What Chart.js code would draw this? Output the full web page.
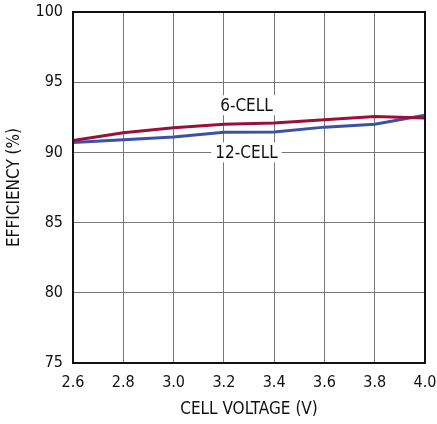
<!DOCTYPE html>
<html>
<head>
<meta charset="utf-8">
<script src="https://cdn.jsdelivr.net/npm/chart.js@4/dist/chart.umd.min.js"></script>
<style>
  html, body { margin: 0; padding: 0; background: #fff; }
  #wrap { width: 437px; height: 424px; position: relative; }
</style>
</head>
<body>
<div id="wrap"><canvas id="chart"></canvas></div>
<script>
const voltages = [2.6, 2.8, 3.0, 3.2, 3.4, 3.6, 3.8, 4.0];
const sixCell = [90.85, 91.4, 91.75, 92.0, 92.1, 92.33, 92.55, 92.45];
const twelveCell = [90.7, 90.9, 91.1, 91.43, 91.45, 91.8, 92.0, 92.65];
const seriesNames = ['6-CELL', '12-CELL'];
const yTicks = [75, 80, 85, 90, 95, 100];

const FONT = '"Liberation Sans Narrow", "DejaVu Sans Condensed", "Liberation Sans", sans-serif';

// curve labels, knocked out of the grid with a white box
const curveLabels = {
  id: 'curveLabels',
  afterDatasetsDraw(chart) {
    const { ctx, scales } = chart;
    const spots = [
      { text: seriesNames[0], x: 3.29, y: 93.36 },
      { text: seriesNames[1], x: 3.29, y: 90.0 }
    ];
    ctx.save();
    ctx.font = '17px ' + FONT;
    ctx.textAlign = 'center';
    ctx.textBaseline = 'middle';
    spots.forEach(s => {
      const px = scales.x.getPixelForValue(s.x);
      const py = scales.y.getPixelForValue(s.y);
      const w = ctx.measureText(s.text).width + 8;
      ctx.fillStyle = '#fff';
      ctx.fillRect(px - w / 2, py - 10, w, 20);
      ctx.fillStyle = '#111';
      ctx.fillText(s.text, px, py + 1);
    });
    ctx.restore();
  }
};

// heavy frame around the plot
const frame = {
  id: 'frame',
  afterDraw(chart) {
    const { ctx, chartArea: a } = chart;
    ctx.save();
    ctx.strokeStyle = '#111';
    ctx.lineWidth = 2;
    ctx.strokeRect(a.left, a.top, a.right - a.left, a.bottom - a.top);
    ctx.restore();
  }
};

new Chart(document.getElementById('chart'), {
  type: 'line',
  data: {
    datasets: [
      {
        label: seriesNames[0],
        data: voltages.map((v, i) => ({ x: v, y: sixCell[i] })),
        borderColor: '#9a1038',
        borderWidth: 3,
        pointRadius: 0,
        tension: 0
      },
      {
        label: seriesNames[1],
        data: voltages.map((v, i) => ({ x: v, y: twelveCell[i] })),
        borderColor: '#3a52a6',
        borderWidth: 3,
        pointRadius: 0,
        tension: 0
      }
    ]
  },
  options: {
    responsive: true,
    maintainAspectRatio: false,
    animation: false,
    layout: { padding: { top: 12, right: 12, left: 0, bottom: 0 } },
    plugins: {
      legend: { display: false },
      tooltip: { enabled: false }
    },
    scales: {
      x: {
        type: 'linear',
        min: 2.6,
        max: 4.0,
        afterBuildTicks(axis) {
          axis.ticks = voltages.map(v => ({ value: v }));
        },
        afterFit(axis) {
          axis.height = 61;
          axis.paddingLeft = 0;
          axis.paddingRight = 0;
        },
        grid: { color: '#777', lineWidth: 1, drawTicks: false },
        border: { display: false },
        ticks: {
          color: '#111',
          padding: 10,
          font: { family: FONT, size: 16 },
          callback: v => v.toFixed(1)
        },
        title: {
          display: true,
          text: 'CELL VOLTAGE (V)',
          color: '#111',
          font: { family: FONT, size: 17 },
          padding: { top: 0 }
        }
      },
      y: {
        min: 75,
        max: 100,
        afterBuildTicks(axis) {
          axis.ticks = yTicks.map(v => ({ value: v }));
        },
        afterFit(axis) {
          axis.width = 73;
          axis.paddingTop = 0;
          axis.paddingBottom = 0;
        },
        grid: { color: '#777', lineWidth: 1, drawTicks: false },
        border: { display: false },
        ticks: {
          color: '#111',
          padding: 10,
          font: { family: FONT, size: 16 }
        },
        title: {
          display: true,
          text: 'EFFICIENCY (%)',
          color: '#111',
          font: { family: FONT, size: 17 },
          padding: { bottom: 2 }
        }
      }
    }
  },
  plugins: [curveLabels, frame]
});
</script>
</body>
</html>
